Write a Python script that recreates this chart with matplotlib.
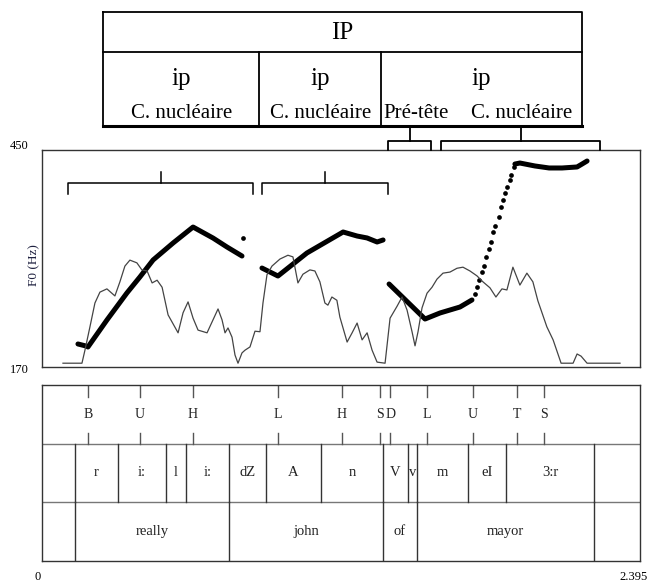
import numpy as np
import matplotlib.pyplot as plt

plt.rcParams['font.family'] = ['Liberation Serif', 'DejaVu Serif']

# time range of the recording (s)
t_end = 2.395
f0_min, f0_max = 170, 450

# F0 contour (s, Hz), dense stretches
f0_segments = [
    ([0.144, 0.176], [199.7, 197.1]),
    ([0.184, 0.260, 0.340, 0.392, 0.445, 0.525, 0.605, 0.685, 0.741, 0.801],
     [195.8, 230.6, 265.5, 286.1, 308.1, 330.0, 350.6, 336.4, 324.8, 313.2]),
    ([0.881, 0.945, 1.061, 1.206, 1.262, 1.302, 1.342, 1.366],
     [297.7, 287.4, 317.1, 344.2, 339.0, 336.5, 331.3, 333.9]),
    ([1.390, 1.534, 1.594, 1.674, 1.722],
     [277.1, 231.9, 239.7, 247.4, 256.5]),
    ([1.894, 1.914, 1.974, 2.031, 2.083, 2.143, 2.163, 2.183],
     [431.9, 433.2, 429.4, 426.8, 426.8, 428.1, 431.9, 435.8]),
]
# F0 samples on the steep rise (separate dots)
f0_dot_t = [0.805, 1.734, 1.742, 1.750, 1.762, 1.770, 1.778, 1.790, 1.798, 1.806,
            1.814, 1.830, 1.838, 1.846, 1.854, 1.862, 1.874, 1.878, 1.890]
f0_dot_hz = [336.4, 264.2, 273.2, 282.3, 292.6, 300.3, 311.9, 322.3, 331.3, 344.2,
             351.9, 363.5, 376.4, 385.5, 394.5, 402.3, 411.3, 417.7, 428.1]

# intensity contour (s, dB)
int_t = [0.084, 0.160, 0.172, 0.192, 0.212, 0.232, 0.260, 0.292, 0.312, 0.332,
         0.352, 0.380, 0.400, 0.421, 0.441, 0.461, 0.481, 0.505, 0.545, 0.565,
         0.585, 0.605, 0.625, 0.661, 0.685, 0.705, 0.721, 0.733, 0.745, 0.761,
         0.773, 0.785, 0.801, 0.813, 0.833, 0.853, 0.873, 0.885, 0.901, 0.921,
         0.953, 0.985, 1.005, 1.025, 1.045, 1.073, 1.093, 1.113, 1.133, 1.145,
         1.161, 1.181, 1.193, 1.222, 1.242, 1.262, 1.282, 1.302, 1.322, 1.342,
         1.374, 1.394, 1.422, 1.442, 1.462, 1.482, 1.494, 1.506, 1.522, 1.542,
         1.562, 1.582, 1.606, 1.634, 1.662, 1.686, 1.714, 1.742, 1.766, 1.794,
         1.818, 1.842, 1.862, 1.886, 1.914, 1.942, 1.966, 1.986, 2.022, 2.047,
         2.079, 2.127, 2.143, 2.159, 2.183, 2.315]
int_db = [40.7, 40.7, 43.1, 47.4, 51.8, 53.8, 54.4, 53.1, 55.7, 58.6,
          59.7, 59.2, 57.9, 57.7, 55.5, 56.0, 54.7, 49.6, 46.3, 50.0,
          52.0, 49.0, 46.8, 46.3, 48.7, 50.7, 48.7, 46.3, 47.2, 45.5,
          42.2, 40.7, 42.6, 43.1, 43.7, 46.6, 46.5, 51.8, 57.0, 58.6,
          59.9, 60.6, 60.3, 55.5, 57.1, 57.9, 57.7, 55.7, 51.8, 51.4,
          52.9, 52.3, 49.2, 44.6, 46.3, 48.1, 45.0, 46.3, 43.1, 40.9,
          40.7, 49.0, 51.2, 52.9, 50.5, 46.5, 43.9, 46.5, 50.9, 53.6,
          54.7, 56.2, 57.3, 57.5, 58.2, 58.4, 57.7, 56.8, 55.7, 54.6,
          52.9, 54.4, 54.2, 58.4, 55.1, 57.3, 55.7, 52.2, 47.4, 45.0,
          40.7, 40.7, 42.4, 42.0, 40.7, 40.7]

# annotation tiers
tone_t = [0.184, 0.392, 0.605, 0.945, 1.201, 1.354, 1.394, 1.542, 1.726, 1.902, 2.011]
tone_labels = ['B', 'U', 'H', 'L', 'H', 'S', 'D', 'L', 'U', 'T', 'S']
phone_bounds = [0, 0.132, 0.304, 0.497, 0.577, 0.749, 0.897, 1.117, 1.366,
                1.466, 1.502, 1.706, 1.858, 2.211, 2.395]
phone_labels = ['', 'r', 'i:', 'l', 'i:', 'dZ', 'A', 'n', 'V', 'v', 'm', 'eI', '3:r', '']
word_bounds = [0, 0.132, 0.749, 1.366, 1.502, 2.211, 2.395]
word_labels = ['', 'really', 'john', 'of', 'mayor', '']

# prosodic structure above the contour
ip_bounds = [0.244, 0.869, 1.358, 2.163]
ip_sub_t = [0.560, 1.114, 1.498, 1.922]
ip_sub_labels = ['C. nucléaire', 'C. nucléaire', 'Pré-tête', 'C. nucléaire']
# brackets: (start, end, tip)
top_brackets = [(1.386, 1.558, 1.474), (1.598, 2.235, 1.918)]
inner_brackets = [(0.104, 0.845, 0.477), (0.881, 1.386, 1.133)]

W, H = 662, 584
fig = plt.figure(figsize=(W / 100, H / 100), dpi=100)
L, R = 42, 640

def fax(top, bottom):
    return fig.add_axes([L / W, 1 - bottom / H, (R - L) / W, (bottom - top) / H])

ink = '#222222'

# ---- pitch panel
ax = fax(150, 367)
ax.set_xlim(0, t_end)
ax.set_ylim(f0_min, f0_max)
ax.set_xticks([])
ax.set_yticks([])
for s in ax.spines.values():
    s.set_color('#333333')
    s.set_linewidth(1.0)

axi = ax.twinx()
axi.set_ylim(40, 80)
axi.set_axis_off()
axi.plot(int_t, int_db, color='#444444', lw=0.9)

for ts, fs in f0_segments:
    ax.plot(ts, fs, color='black', lw=3.6, solid_capstyle='round', zorder=5)
ax.plot(f0_dot_t, f0_dot_hz, 'o', color='black', ms=3.4, mew=0, zorder=5)

for x0, x1, xm in inner_brackets:
    ax.plot([x0, x0, x1, x1], [393, 407, 407, 393], color='black', lw=1.1)
    ax.plot([xm, xm], [407, 422], color='black', lw=1.1)

ax.text(-0.038, 1.02, '450', transform=ax.transAxes, ha='center', va='center', fontsize=9)
ax.text(-0.038, -0.015, '170', transform=ax.transAxes, ha='center', va='center', fontsize=9)
ax.text(-0.003, 0.47, 'F0 (Hz)', transform=ax.transAxes, rotation=90,
        ha='right', va='center', fontsize=9.5, color='#1f2140')

# ---- tiers
at = fax(385, 561)
at.set_xlim(0, t_end)
at.set_ylim(0, 3)
at.set_xticks([])
at.set_yticks([])
for s in at.spines.values():
    s.set_color('#333333')
    s.set_linewidth(1.0)
at.axhline(1, color='#777777', lw=1)
at.axhline(2, color='#777777', lw=1)

for t, lab in zip(tone_t, tone_labels):
    at.plot([t, t], [3, 2.8], color='#555555', lw=1)
    at.plot([t, t], [2, 2.19], color='#555555', lw=1)
    at.text(t, 2.5, lab, ha='center', va='center', fontsize=10, color=ink)

for b in phone_bounds[1:-1]:
    at.plot([b, b], [1, 2], color='#333333', lw=1)
for i, lab in enumerate(phone_labels):
    at.text((phone_bounds[i] + phone_bounds[i + 1]) / 2, 1.5, lab,
            ha='center', va='center', fontsize=10.5, color=ink)

for b in word_bounds[1:-1]:
    at.plot([b, b], [0, 1], color='#333333', lw=1)
for i, lab in enumerate(word_labels):
    at.text((word_bounds[i] + word_bounds[i + 1]) / 2, 0.5, lab,
            ha='center', va='center', fontsize=10.5, color=ink)

at.text(-0.008, -0.09, '0', transform=at.transAxes, ha='center', va='center', fontsize=9)
at.text(0.99, -0.09, '2.395', transform=at.transAxes, ha='center', va='center', fontsize=9)

# ---- prosodic boxes on top
ab = fax(0, 150)
ab.set_xlim(0, t_end)
ab.set_ylim(150, 0)
ab.set_axis_off()
x0, x3 = ip_bounds[0], ip_bounds[-1]
ab.plot([x0, x3, x3, x0, x0], [12, 12, 126, 126, 12], color='black', lw=1.3, clip_on=False)
ab.plot([x0, x3], [126, 126], color='black', lw=2.2, clip_on=False)
ab.plot([x0, x3], [52, 52], color='black', lw=1.3)
for b in ip_bounds[1:-1]:
    ab.plot([b, b], [52, 126], color='black', lw=1.3)
ab.text((x0 + x3) / 2, 33, 'IP', ha='center', va='center', fontsize=18)
for i in range(3):
    ab.text((ip_bounds[i] + ip_bounds[i + 1]) / 2, 79, 'ip',
            ha='center', va='center', fontsize=18)
for t, lab in zip(ip_sub_t, ip_sub_labels):
    ab.text(t, 114, lab, ha='center', va='center', fontsize=15)
for b0, b1, bm in top_brackets:
    ab.plot([b0, b0, b1, b1], [150, 141, 141, 150], color='black', lw=1.3, clip_on=False)
    ab.plot([bm, bm], [141, 127], color='black', lw=1.3)

fig.savefig('out.png', dpi=100)
